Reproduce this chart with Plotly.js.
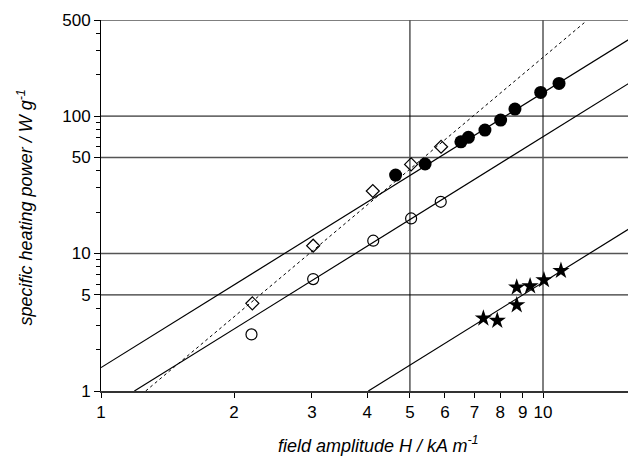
<!DOCTYPE html>
<html><head><meta charset="utf-8">
<script src="https://cdn.plot.ly/plotly-3.0.1.min.js"></script>
<style>html,body{margin:0;padding:0;background:#fff}#chart{width:628px;height:457px}</style>
</head><body><div id="chart"></div>
<script>
// data
const filledX = [4.64, 5.41, 6.52, 6.78, 7.39, 8.02, 8.64, 9.88, 10.87];
const filledY = [37.2, 44.8, 65.0, 70.0, 79.1, 93.5, 112.4, 148.7, 172.9];
const diamondX = [2.20, 3.02, 4.12, 5.03, 5.88];
const diamondY = [4.34, 11.4, 28.5, 44.5, 59.8];
const openX = [2.19, 3.02, 4.13, 5.03, 5.87];
const openY = [2.58, 6.52, 12.4, 18.0, 23.8];
const starX = [7.33, 7.88, 8.72, 8.72, 9.35, 10.05, 10.98];
const starY = [3.38, 3.25, 4.22, 5.68, 5.80, 6.42, 7.50];
// fitted lines (end points)
const fitUpperX = [1, 16];     const fitUpperY = [1.48, 378];
const fitMiddleX = [1.19, 16]; const fitMiddleY = [1, 181];
const fitLowerX = [4.025, 16]; const fitLowerY = [1, 15.8];
const fitDotX = [1.262, 12.4]; const fitDotY = [1, 478];
// ticks and grid
const xTickVals = [1, 2, 3, 4, 5, 6, 7, 8, 9, 10];
const yTickVals = [1, 5, 10, 50, 100, 500];
const yMinorVals = [2, 3, 4, 6, 7, 8, 9, 20, 30, 40, 60, 70, 80, 90, 200, 300, 400];
const gridX = [5, 10];
const gridYDark = [5, 100];
const gridYGray = [10, 50, 500];
const xTitle = 'field amplitude H / kA m<sup>-1</sup>';
const yTitle = 'specific heating power / W g<sup>-1</sup>';

const FONT = 'Liberation Sans, Arial, sans-serif';

const traces = [
  {x: fitUpperX, y: fitUpperY, mode: 'lines', line: {color: '#000', width: 1.2}, hoverinfo: 'skip'},
  {x: fitMiddleX, y: fitMiddleY, mode: 'lines', line: {color: '#000', width: 1.2}, hoverinfo: 'skip'},
  {x: fitLowerX, y: fitLowerY, mode: 'lines', line: {color: '#000', width: 1.2}, hoverinfo: 'skip'},
  {x: fitDotX, y: fitDotY, mode: 'lines', line: {color: '#000', width: 1, dash: 'dot'}, hoverinfo: 'skip'},
  {x: openX, y: openY, mode: 'markers', marker: {symbol: 'circle-open', size: 11, color: '#000', line: {width: 1.2, color: '#000'}}},
  {x: diamondX, y: diamondY, mode: 'markers', marker: {symbol: 'diamond-open', size: 10, color: '#000', line: {width: 1.2, color: '#000'}}},
  {x: filledX, y: filledY, mode: 'markers', marker: {symbol: 'circle', size: 13, color: '#000'}},
  {x: starX, y: starY, mode: 'markers', marker: {symbol: 'star', size: 13, color: '#000'}}
];

const shapes = [];
gridX.forEach(v => shapes.push({type: 'line', xref: 'x', yref: 'paper', x0: v, x1: v, y0: 0, y1: 1, line: {color: '#000', width: 1}, layer: 'below'}));
gridYDark.forEach(v => shapes.push({type: 'line', xref: 'paper', yref: 'y', x0: 0, x1: 1, y0: v, y1: v, line: {color: '#000', width: 1}, layer: 'below'}));
gridYGray.forEach(v => shapes.push({type: 'line', xref: 'paper', yref: 'y', x0: 0, x1: 1, y0: v, y1: v, line: {color: '#555', width: 1.5}, layer: 'below'}));

const layout = {
  width: 628, height: 457,
  margin: {l: 101, r: 0, t: 20, b: 66},
  paper_bgcolor: '#fff', plot_bgcolor: '#fff',
  showlegend: false,
  font: {family: FONT, size: 17, color: '#000'},
  xaxis: {
    type: 'log', range: [0, 1.1923],
    tickmode: 'array', tickvals: xTickVals, ticktext: xTickVals.map(String),
    ticks: 'outside', ticklen: 5, tickwidth: 1, tickcolor: '#000',
    showline: true, linecolor: '#333', linewidth: 1.5,
    showgrid: false, zeroline: false,
    tickfont: {family: FONT, size: 17, color: '#000'}
  },
  yaxis: {
    type: 'log', range: [0, Math.log10(500)],
    tickmode: 'array', tickvals: yTickVals, ticktext: yTickVals.map(String),
    ticks: 'outside', ticklen: 6, tickwidth: 1, tickcolor: '#000',
    minor: {tickmode: 'array', tickvals: yMinorVals, ticks: 'outside', ticklen: 4, tickwidth: 1, tickcolor: '#000', showgrid: false},
    showline: true, linecolor: '#000', linewidth: 1,
    showgrid: false, zeroline: false,
    tickfont: {family: FONT, size: 17, color: '#000'}
  },
  annotations: [
    {text: xTitle, xref: 'paper', yref: 'paper', x: 0.526, y: -0.143, xanchor: 'center', yanchor: 'middle', showarrow: false,
     font: {family: FONT, size: 18, color: '#000', style: 'italic'}},
    {text: yTitle, xref: 'paper', yref: 'paper', x: -0.144, y: 0.495, xanchor: 'center', yanchor: 'middle', showarrow: false, textangle: -90,
     font: {family: FONT, size: 18, color: '#000', style: 'italic'}}
  ],
  shapes: shapes
};

Plotly.newPlot('chart', traces, layout, {displayModeBar: false, staticPlot: true});
</script>
</body></html>
